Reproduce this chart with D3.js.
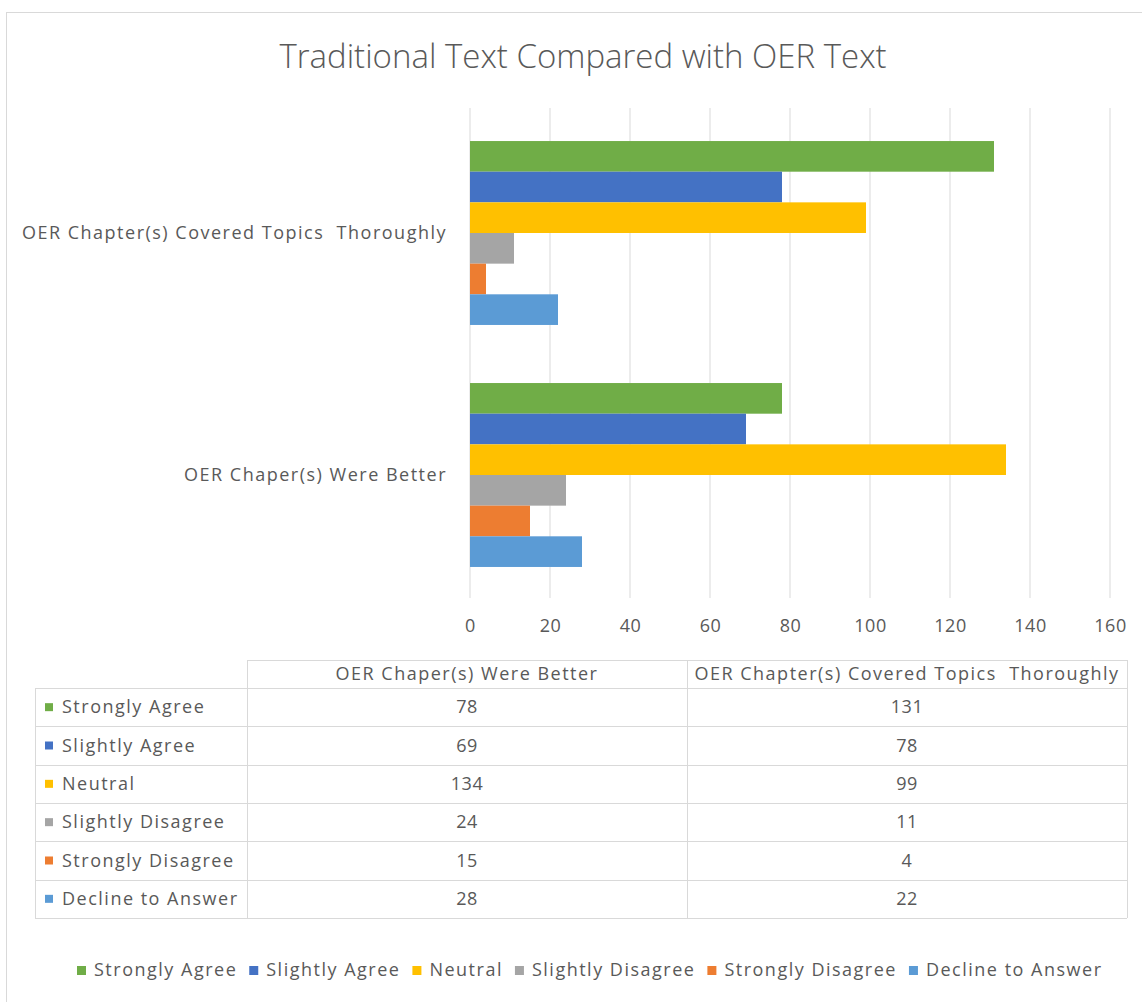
<!DOCTYPE html>
<html>
<head>
<meta charset="utf-8">
<script src="https://d3js.org/d3.v7.min.js"></script>
<style>
  body { margin: 0; background: #fff; }
  text { font-family: "Open Sans", "DejaVu Sans", sans-serif; fill: #595959; }
  .lbl { font-size: 18px; letter-spacing: 1.5px; white-space: pre; }
  .num { font-size: 18px; letter-spacing: 0.5px; }
</style>
</head>
<body>
<div id="chart"></div>
<script>
// data
var categories = ["OER Chapter(s) Covered Topics  Thoroughly", "OER Chaper(s) Were Better"];
var tableCols = ["OER Chaper(s) Were Better", "OER Chapter(s) Covered Topics  Thoroughly"];
var seriesNames = ["Strongly Agree", "Slightly Agree", "Neutral", "Slightly Disagree", "Strongly Disagree", "Decline to Answer"];
var seriesColors = ["#70AD47", "#4472C4", "#FFC000", "#A5A5A5", "#ED7D31", "#5B9BD5"];
var wereBetter = [78, 69, 134, 24, 15, 28];
var coveredTopics = [131, 78, 99, 11, 4, 22];
var xTicks = [0, 20, 40, 60, 80, 100, 120, 140, 160];

var W = 1142, H = 1002;
var svg = d3.select("#chart").append("svg")
    .attr("width", W).attr("height", H);

// chart frame
svg.append("rect")
    .attr("x", 6.5).attr("y", 12.5)
    .attr("width", W + 10).attr("height", H + 10)
    .attr("fill", "#fff").attr("stroke", "#d9d9d9");

svg.append("text")
    .attr("x", 583).attr("y", 68)
    .attr("text-anchor", "middle")
    .style("font-size", "33px")
    .style("font-weight", 300)
    .text("Traditional Text Compared with OER Text");

// scales
var x = d3.scaleLinear().domain([0, 160]).range([470, 1110]);
var y = d3.scaleBand().domain(categories).range([112, 596])
    .paddingInner(0.24).paddingOuter(0.12);
var ySub = d3.scaleBand().domain(seriesNames).range([0, y.bandwidth()]);

// gridlines
svg.append("g").selectAll("line")
    .data(xTicks).enter().append("line")
    .attr("x1", function(d) { return x(d); })
    .attr("x2", function(d) { return x(d); })
    .attr("y1", 108).attr("y2", 598)
    .attr("stroke", "#d9d9d9").attr("stroke-width", 1);

// x axis labels
var xAxis = svg.append("g")
    .attr("transform", "translate(0,598)")
    .call(d3.axisBottom(x).tickValues(xTicks).tickSize(0).tickPadding(21));
xAxis.select(".domain").remove();
xAxis.selectAll("text").attr("class", "num").attr("fill", "#595959");

// category labels
var yAxis = svg.append("g")
    .attr("transform", "translate(470,0)")
    .call(d3.axisLeft(y).tickSize(0).tickPadding(23));
yAxis.select(".domain").remove();
yAxis.selectAll("text").attr("class", "lbl").attr("fill", "#595959");

// bars
var rows = [];
categories.forEach(function(c) {
  var vals = c === categories[0] ? coveredTopics : wereBetter;
  seriesNames.forEach(function(s, i) {
    rows.push({ cat: c, s: s, v: vals[i], color: seriesColors[i] });
  });
});
svg.append("g").selectAll("rect")
    .data(rows).enter().append("rect")
    .attr("x", x(0))
    .attr("y", function(d) { return y(d.cat) + ySub(d.s); })
    .attr("width", function(d) { return x(d.v) - x(0); })
    .attr("height", ySub.bandwidth())
    .attr("fill", function(d) { return d.color; });

// data table
var tbl = svg.append("g");
var colX = [35, 247, 687, 1127];
var headTop = 660, headBot = 688, tblBot = 918;
var rowY = d3.scaleBand().domain(d3.range(6)).range([headBot, tblBot]);
var lineC = "#d9d9d9";

function vline(xx, y1, y2) {
  tbl.append("line").attr("x1", xx + 0.5).attr("x2", xx + 0.5)
      .attr("y1", y1).attr("y2", y2).attr("stroke", lineC);
}
function hline(x1, x2, yy) {
  yy = Math.round(yy) + 0.5;
  tbl.append("line").attr("x1", x1).attr("x2", x2)
      .attr("y1", yy).attr("y2", yy).attr("stroke", lineC);
}
hline(colX[1], colX[3], headTop);
vline(colX[1], headTop, tblBot);
vline(colX[2], headTop, tblBot);
vline(colX[3], headTop, tblBot);
vline(colX[0], headBot, tblBot);
d3.range(6).forEach(function(r) { hline(colX[0], colX[3], rowY(r)); });
hline(colX[0], colX[3], tblBot);

tableCols.forEach(function(c, i) {
  tbl.append("text")
      .attr("class", "lbl")
      .attr("x", (colX[i + 1] + colX[i + 2]) / 2)
      .attr("y", (headTop + headBot) / 2)
      .attr("dy", "0.35em").attr("text-anchor", "middle")
      .text(c);
});
seriesNames.forEach(function(s, i) {
  var cy = rowY(i) + rowY.bandwidth() / 2;
  tbl.append("rect").attr("x", 45).attr("y", cy - 4).attr("width", 8).attr("height", 8)
      .attr("fill", seriesColors[i]);
  tbl.append("text").attr("class", "lbl").attr("x", 62).attr("y", cy).attr("dy", "0.35em")
      .text(s);
  [wereBetter[i], coveredTopics[i]].forEach(function(v, j) {
    tbl.append("text").attr("class", "num")
        .attr("x", (colX[j + 1] + colX[j + 2]) / 2).attr("y", cy)
        .attr("dy", "0.35em").attr("text-anchor", "middle")
        .text(v);
  });
});

// legend
var legend = svg.append("g").attr("transform", "translate(0,970)");
var lx = 77;
seriesNames.forEach(function(s, i) {
  var item = legend.append("g").attr("transform", "translate(" + lx + ",0)");
  item.append("rect").attr("x", 0).attr("y", -4).attr("width", 9).attr("height", 9)
      .attr("fill", seriesColors[i]);
  var t = item.append("text").attr("class", "lbl").attr("x", 17).attr("dy", "0.35em")
      .text(s);
  lx += 17 + t.node().getComputedTextLength() + 12;
});
</script>
</body>
</html>
